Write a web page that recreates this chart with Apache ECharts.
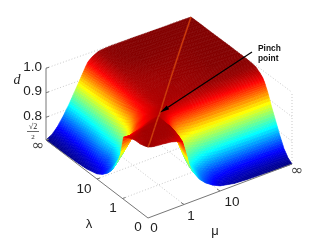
<!DOCTYPE html>
<html><head><meta charset="utf-8">
<style>html,body{margin:0;padding:0;background:#fff}#c{width:323px;height:245px;filter:blur(.35px)}</style>
<script src="https://cdn.jsdelivr.net/npm/echarts@6/dist/echarts.min.js"></script>
</head><body><div id="c"></div>
<script>
// axis position (0..1) of each grid row/column of the surface
const gridPos = [0,.04,.08,.12,.16,.2,.24,.27,.29,.32,.36,.4,.45,.5,.6,.7,.8,.9,1];
// d values, lambda >= mu side: row = lambda position, column = mu position
const dLambdaSide = [
[.997],
[.99,.992],
[.985,.99,.991],
[.985,.99,.991,.991],
[.98,.985,.991,.991,.991],
[.972,.975,.982,.988,.991,.991],
[.96,.958,.965,.97,.98,.986,.99],
[.88,.90,.93,.955,.965,.975,.98,.985],
[.85,.88,.915,.945,.96,.97,.978,.983,.985],
[.82,.851,.893,.93,.955,.966,.975,.98,.983,.986],
[.785,.812,.837,.88,.934,.954,.968,.974,.978,.985,.988],
[.762,.782,.81,.852,.902,.943,.964,.971,.976,.985,.987,.989],
[.742,.755,.79,.825,.871,.919,.955,.969,.975,.984,.987,.988,.99],
[.728,.746,.769,.81,.858,.903,.95,.968,.974,.983,.988,.989,.99,.992],
[.716,.738,.77,.806,.84,.887,.934,.96,.972,.982,.988,.99,.991,.992,.994],
[.712,.729,.759,.794,.831,.874,.923,.956,.971,.982,.99,.992,.994,.995,.996,.996],
[.71,.725,.752,.786,.826,.87,.918,.952,.969,.981,.992,.995,.997,.998,.998,.998,.998],
[.708,.722,.748,.782,.823,.868,.912,.949,.968,.981,.993,.996,.998,.998,.999,.999,.999,.999],
[.707,.72,.745,.78,.82,.865,.91,.945,.965,.98,.993,.996,.998,.998,.999,.999,.999,1,1]
];
// d values, mu >= lambda side: row = mu position, column = lambda position
const dMuSide = [
[.997],
[.99,.992],
[.988,.99,.991],
[.985,.99,.991,.991],
[.982,.99,.991,.991,.991],
[.975,.988,.99,.991,.991,.991],
[.965,.977,.985,.99,.99,.99,.99],
[.90,.915,.935,.95,.96,.97,.98,.985],
[.85,.875,.90,.92,.94,.96,.975,.982,.985],
[.82,.83,.845,.87,.90,.93,.96,.975,.98,.986],
[.785,.80,.815,.84,.865,.90,.94,.965,.975,.985,.988],
[.762,.775,.79,.825,.855,.893,.935,.962,.973,.984,.988,.989],
[.742,.755,.775,.81,.845,.885,.932,.96,.972,.983,.988,.989,.99],
[.728,.74,.76,.80,.84,.882,.93,.958,.971,.983,.989,.99,.99,.992],
[.716,.73,.752,.79,.835,.88,.928,.956,.97,.982,.99,.992,.992,.993,.994],
[.712,.725,.748,.788,.832,.878,.926,.955,.97,.982,.992,.994,.995,.995,.996,.996],
[.71,.722,.746,.786,.83,.876,.925,.955,.97,.982,.993,.995,.997,.998,.998,.998,.998],
[.708,.72,.745,.785,.83,.875,.925,.955,.97,.982,.993,.996,.998,.998,.999,.999,.999,.999],
[.707,.72,.745,.785,.83,.875,.925,.955,.97,.982,.993,.996,.998,.998,.999,.999,.999,1,1]
];
const lambdaTicks = [{p:0,t:'0'},{p:.25,t:'1'},{p:.5,t:'10'},{p:1,t:'\u221e'}];
const muTicks = [{p:0,t:'0'},{p:.25,t:'1'},{p:.5,t:'10'},{p:1,t:'\u221e'}];
const dTicks = [.7071,.8,.9,1];
const dTickLabels = ['','0.8','0.9','1.0'];
const annotation = ['Pinch','point'];

const dAt = (i,j)=> i>=j ? dLambdaSide[i][j] : dMuSide[j][i];
const D0 = .7071;
function mix(u,v,a,b,c,e){return a*(1-u)*(1-v)+b*u*(1-v)+c*(1-u)*v+e*u*v;}
function proj(u,v,d){
  const x=mix(u,v,148,46,292,191), y=mix(u,v,218,140,164,85);
  return [x, y-(d-D0)*(245-13*u*v)];
}
function jet(d){
  const s=Math.max(0,Math.min(1,(d-D0)/(1-D0)));
  const c=t=>Math.round(255*Math.max(0,Math.min(1,1.5-Math.abs(4*s-t))));
  return 'rgb('+c(3)+','+c(2)+','+c(1)+')';
}
const cells=[];
for(let i=0;i<gridPos.length-1;i++)for(let j=0;j<gridPos.length-1;j++)cells.push([i,j]);
cells.sort((a,b)=>(b[0]+b[1])-(a[0]+a[1]));
const SUB=5;
function renderCell(params,api){
  const i=api.value(0), j=api.value(1), ch=[];
  const u0=gridPos[i],u1=gridPos[i+1],v0=gridPos[j],v1=gridPos[j+1];
  const a=dAt(i,j),b=dAt(i+1,j),c=dAt(i,j+1),e=dAt(i+1,j+1);
  const pt=(s,t)=>{const p=proj(u0+(u1-u0)*s,v0+(v1-v0)*t,mix(s,t,a,b,c,e));return api.coord(p);};
  for(let m=SUB-1;m>=0;m--)for(let n=SUB-1;n>=0;n--){
    const s0=m/SUB,s1=(m+1)/SUB,t0=n/SUB,t1=(n+1)/SUB;
    const col=jet(mix((s0+s1)/2,(t0+t1)/2,a,b,c,e));
    ch.push({type:'polygon',shape:{points:[pt(s0,t0),pt(s1,t0),pt(s1,t1),pt(s0,t1)]},
      style:{fill:col,stroke:col,lineWidth:.6}});
  }
  return {type:'group',children:ch};
}
function seg(api,a,b,style){
  return {type:'line',shape:{x1:api.coord(a)[0],y1:api.coord(a)[1],x2:api.coord(b)[0],y2:api.coord(b)[1]},style};
}
function renderWalls(params,api){
  const ch=[],dot={stroke:'#bbb',lineWidth:.8,lineDash:[1,2]};
  dTicks.forEach(d=>{
    ch.push(seg(api,proj(1,0,d),proj(1,1,d),dot));
    ch.push(seg(api,proj(1,1,d),proj(0,1,d),dot));
  });
  ch.push(seg(api,proj(1,1,D0),proj(1,1,1),dot));
  ch.push(seg(api,proj(0,1,D0),proj(0,1,1),dot));
  lambdaTicks.slice(1,3).forEach(k=>ch.push(seg(api,proj(k.p,0,D0),proj(k.p,1,D0),dot)));
  muTicks.slice(1,3).forEach(k=>ch.push(seg(api,proj(0,k.p,D0),proj(1,k.p,D0),dot)));
  return {type:'group',children:ch};
}
function txt(api,p,text,font,fill,align){
  const q=api.coord(p);
  return {type:'text',style:{text,x:q[0],y:q[1],font,fill:fill||'#222',align:align||'center',verticalAlign:'middle'}};
}
function renderAxes(params,api){
  const ch=[],ax={stroke:'#777',lineWidth:1},num='13.5px "Liberation Sans",Helvetica,Arial,sans-serif';
  ch.push(seg(api,proj(0,0,D0),proj(1,0,D0),ax));
  ch.push(seg(api,proj(0,0,D0),proj(0,1,D0),ax));
  ch.push(seg(api,proj(1,0,D0),proj(1,0,1),ax));
  dTicks.forEach(d=>{const p=proj(1,0,d);ch.push(seg(api,p,[p[0]+3,p[1]-1],ax));});
  lambdaTicks.slice(1,3).forEach(k=>{const p=proj(k.p,0,D0);ch.push(seg(api,p,[p[0]+3,p[1]-1],ax));});
  muTicks.slice(1,3).forEach(k=>{const p=proj(0,k.p,D0);ch.push(seg(api,p,[p[0]-3,p[1]-2],ax));});
  dTickLabels.forEach((t,k)=>{if(t){const p=proj(1,0,dTicks[k]);ch.push(txt(api,[p[0]-4,p[1]-1],t,num,'#222','right'));}});
  const lo=[[138,227],[113,208],[84,189]], mo=[[154,228],[191,216],[232,202]];
  lambdaTicks.slice(0,3).forEach((k,n)=>ch.push(txt(api,lo[n],k.t,num)));
  muTicks.slice(0,3).forEach((k,n)=>ch.push(txt(api,mo[n],k.t,num)));
  ch.push(txt(api,[38,146],lambdaTicks[3].t,'15px "DejaVu Sans"','#444'));
  ch.push(txt(api,[297,171],muTicks[3].t,'15px "DejaVu Sans"','#444'));
  ch.push(txt(api,[33,126.5],'\u221a2','8px "Liberation Serif"'));
  ch.push(seg(api,[27,131.5],[39,131.5],{stroke:'#444',lineWidth:.8}));
  ch.push(txt(api,[33,137],'2','7px "Liberation Serif"'));
  ch.push(txt(api,[17,80],'d','italic 14px "Liberation Serif"'));
  ch.push(txt(api,[89,224],'\u03bb','13px "Liberation Sans"'));
  ch.push(txt(api,[215,231],'\u03bc','13px "Liberation Sans"'));
  return {type:'group',children:ch};
}
function renderOverlay(params,api){
  const ch=[];
  for(let k=0;k<gridPos.length-1;k++){
    ch.push(seg(api,proj(gridPos[k],gridPos[k],dAt(k,k)),proj(gridPos[k+1],gridPos[k+1],dAt(k+1,k+1)),{stroke:'#cc3a0c',lineWidth:1.5}));
  }
  const tail=[252,52],head=[160,112.5];
  const back=[head[0]+8,head[1]-5.2];
  ch.push(seg(api,tail,back,{stroke:'#000',lineWidth:1.2}));
  const nx=2.2*.545,ny=2.2*.838;
  ch.push({type:'polygon',shape:{points:[api.coord(head),api.coord([back[0]+nx,back[1]+ny]),api.coord([back[0]-nx,back[1]-ny])]},style:{fill:'#000'}});
  const f='bold 8.4px "Liberation Sans",Arial,sans-serif';
  ch.push(txt(api,[258,48.5],annotation[0],f,'#111','left'));
  ch.push(txt(api,[258,59],annotation[1],f,'#111','left'));
  return {type:'group',children:ch};
}
const chart=echarts.init(document.getElementById('c'),null,{renderer:'canvas'});
const one=(name,fn)=>({type:'custom',name,data:[[0,0]],renderItem:fn,silent:true,animation:false,progressive:0,clip:false});
chart.setOption({
  animation:false,
  backgroundColor:'#fff',
  grid:{left:0,right:0,top:0,bottom:0},
  xAxis:{type:'value',min:0,max:323,show:false},
  yAxis:{type:'value',min:0,max:245,inverse:true,show:false},
  series:[
    one('walls',renderWalls),
    {type:'custom',name:'surface',data:cells,renderItem:renderCell,silent:true,animation:false,progressive:0,clip:false},
    one('axes',renderAxes),
    one('overlay',renderOverlay)
  ]
});
</script></body></html>
